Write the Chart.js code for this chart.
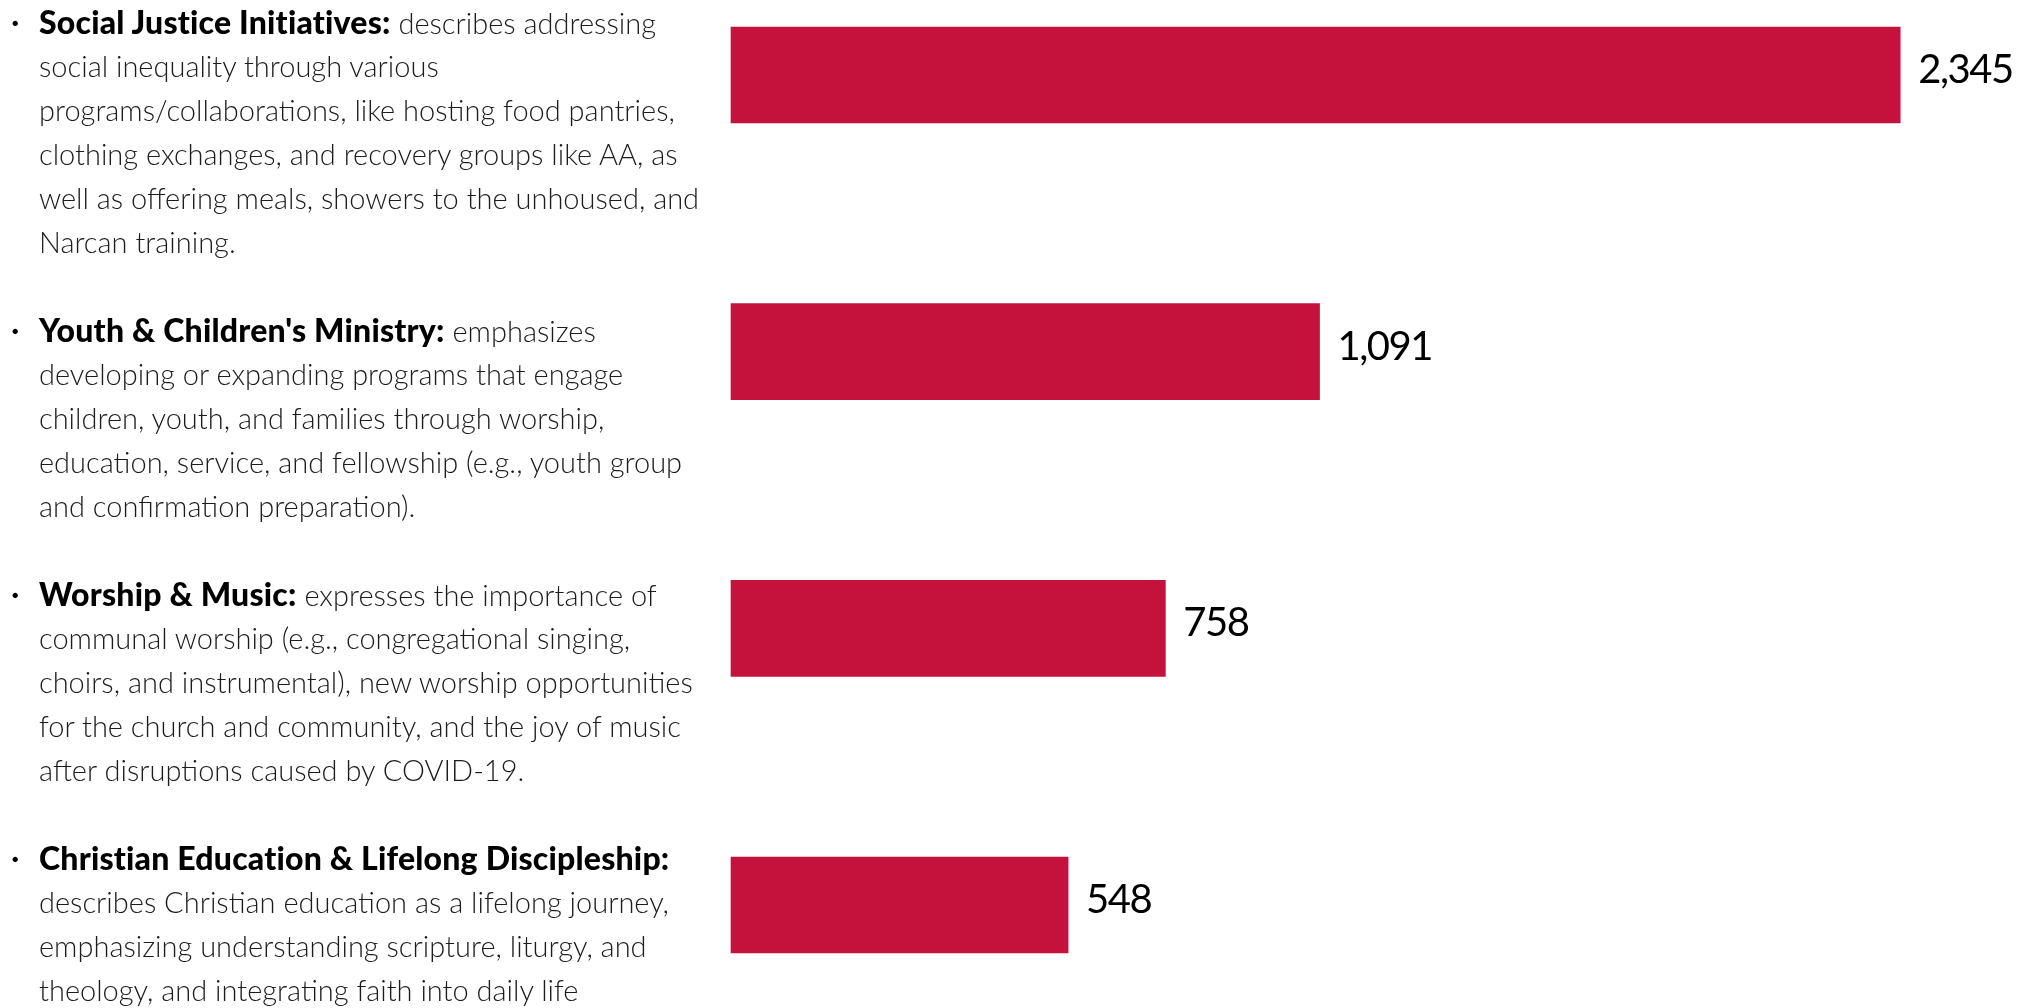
<!DOCTYPE html>
<html>
<head>
<meta charset="utf-8">
<script src="https://cdn.jsdelivr.net/npm/chart.js@4.4.1/dist/chart.umd.min.js"></script>
<style>
  html, body { margin: 0; padding: 0; background: #ffffff; }
  body { width: 2021px; height: 1008px; position: relative; overflow: hidden; }
  #chart { position: absolute; left: 0; top: 0; }
  #notes { position: absolute; left: 0; top: 0; width: 720px; font-family: Lato, "Open Sans", sans-serif; }
  .line { position: relative; height: 44px; line-height: 44px; padding-left: 39px; white-space: nowrap;
          font-size: 29px; font-weight: 300; color: #1c1c1c; }
  .line b { font-weight: 900; color: #000; font-size: 32px; letter-spacing: 0.2px; }
  .bullet { position: absolute; left: 10px; top: 0; font-size: 18px; color: #000; }
</style>
</head>
<body>
<canvas id="chart" width="2021" height="1008"></canvas>
<div id="notes"></div>
<script>
// ---- data ----
const categories = [
  "Social Justice Initiatives:",
  "Youth & Children's Ministry:",
  "Worship & Music:",
  "Christian Education & Lifelong Discipleship:"
];
const counts = [2345, 1091, 758, 548];
const descSocial = [
  "describes addressing",
  "social inequality through various",
  "programs/collaborations, like hosting food pantries,",
  "clothing exchanges, and recovery groups like AA, as",
  "well as offering meals, showers to the unhoused, and",
  "Narcan training."
];
const descYouth = [
  "emphasizes",
  "developing or expanding programs that engage",
  "children, youth, and families through worship,",
  "education, service, and fellowship (e.g., youth group",
  "and confirmation preparation)."
];
const descWorship = [
  "expresses the importance of",
  "communal worship (e.g., congregational singing,",
  "choirs, and instrumental), new worship opportunities",
  "for the church and community, and the joy of music",
  "after disruptions caused by COVID-19."
];
const descEducation = [
  "",
  "describes Christian education as a lifelong journey,",
  "emphasizing understanding scripture, liturgy, and",
  "theology, and integrating faith into daily life"
];
const descriptions = [descSocial, descYouth, descWorship, descEducation];

// ---- left-hand text ----
const notes = document.getElementById('notes');
function esc(s){ return s.replace(/&/g,'&amp;').replace(/</g,'&lt;'); }
descriptions.forEach((lines, i) => {
  lines.forEach((txt, j) => {
    const d = document.createElement('div');
    d.className = 'line';
    if (j === 0) {
      d.innerHTML = '<span class="bullet">&#8226;</span><b>' + esc(categories[i]) + '</b>' + (txt ? ' ' + esc(txt) : '');
    } else {
      d.textContent = txt;
    }
    notes.appendChild(d);
  });
  if (i < descriptions.length - 1) {
    const gap = document.createElement('div');
    gap.className = 'line';
    notes.appendChild(gap);
  }
});

// ---- chart ----
const barColor = '#C4123C';
const axisStart = -180;

const valueLabels = {
  id: 'valueLabels',
  afterDatasetsDraw(chart) {
    const ctx = chart.ctx;
    const meta = chart.getDatasetMeta(0);
    ctx.save();
    ctx.font = '400 40px Lato, "Open Sans", sans-serif';
    ctx.fillStyle = '#000';
    ctx.textAlign = 'left';
    ctx.textBaseline = 'alphabetic';
    if ('letterSpacing' in ctx) ctx.letterSpacing = '-1.5px';
    meta.data.forEach((bar, i) => {
      ctx.fillText(counts[i].toLocaleString('en-US'), bar.x + 18, bar.y + 8);
    });
    ctx.restore();
  }
};

function draw() {
  new Chart(document.getElementById('chart'), {
    type: 'bar',
    data: {
      labels: categories,
      datasets: [{
        data: counts,
        backgroundColor: barColor,
        borderWidth: 0,
        barThickness: 96,
        base: axisStart,
        clip: false
      }]
    },
    options: {
      indexAxis: 'y',
      responsive: false,
      animation: false,
      layout: { padding: { left: 731, right: 49, top: 75, bottom: 103 } },
      scales: {
        x: { display: false, min: axisStart, max: 2500 },
        y: { display: false, offset: false }
      },
      plugins: { legend: { display: false }, tooltip: { enabled: false } }
    },
    plugins: [valueLabels]
  });
}
if (document.fonts && document.fonts.load) {
  document.fonts.load('400 40px Lato').then(draw, draw);
} else { draw(); }
</script>
</body>
</html>
